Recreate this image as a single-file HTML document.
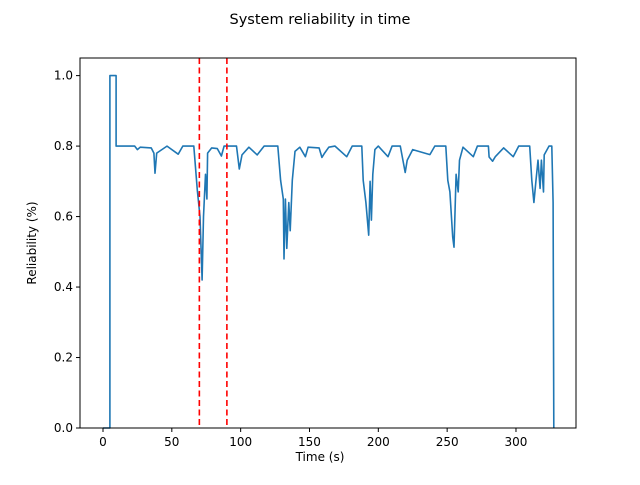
<!DOCTYPE html>
<html><head><meta charset="utf-8"><style>
body{margin:0;background:#fff;font-family:"Liberation Sans","DejaVu Sans",sans-serif}
svg text{font-family:"DejaVu Sans","Liberation Sans",sans-serif}
</style></head><body>
<svg id="chart" width="640" height="480" xmlns="http://www.w3.org/2000/svg"></svg>
<script>
const times=[0,5,5,9.5,9.5,23,25,27,35,37,37.8,39,46.5,54.6,58,66,68.5,70.5,72,73,74.5,75.5,76,79,83,86,88,97,99,101,106,112,117,127,129,131,131.5,132.5,133.5,135,136,137.5,139.5,143,147,149,157,159,161,164,168.5,177,181,188,189,191,193,194,195,196,197.5,200,207,210,216,219.5,221,225,237.5,241,249,250.5,252,254,255,256.5,258,259,261.5,269,272,280,280.5,283,285,291,298,302,310,311.5,313,314.5,316,317.5,318.5,320,320.5,324,326,327,327.5];
const values=[0,0,1,1,0.8,0.8,0.79,0.797,0.795,0.78,0.723,0.78,0.8,0.777,0.8,0.8,0.675,0.6,0.42,0.6,0.72,0.65,0.78,0.795,0.793,0.772,0.8,0.8,0.735,0.775,0.797,0.775,0.8,0.8,0.703,0.65,0.48,0.65,0.51,0.64,0.56,0.703,0.785,0.797,0.77,0.797,0.795,0.768,0.78,0.797,0.8,0.77,0.8,0.8,0.703,0.64,0.547,0.7,0.59,0.72,0.79,0.8,0.77,0.8,0.8,0.725,0.76,0.79,0.776,0.8,0.8,0.703,0.67,0.542,0.513,0.72,0.67,0.76,0.797,0.77,0.8,0.8,0.769,0.757,0.77,0.795,0.77,0.8,0.8,0.703,0.64,0.7,0.76,0.68,0.76,0.67,0.775,0.8,0.8,0.64,0];
const vlines=[70,90];
const xTicks=[0,50,100,150,200,250,300];
const yTicks=[0,0.2,0.4,0.6,0.8,1.0];
const L=80,R=576,T=58,B=428;
const xmin=-16.7,xmax=343.6,ymin=0,ymax=1.05;
const sx=v=>L+(v-xmin)/(xmax-xmin)*(R-L);
const sy=v=>B-(v-ymin)/(ymax-ymin)*(B-T);
const svg=document.getElementById('chart');
const NS='http://www.w3.org/2000/svg';
function mk(tag,attrs,parent){const e=document.createElementNS(NS,tag);for(const k in attrs)e.setAttribute(k,attrs[k]);(parent||svg).appendChild(e);return e;}
let t=mk('text',{x:320,y:24,'text-anchor':'middle','font-size':14.5,fill:'#000'});t.textContent='System reliability in time';


let pts=times.map((x,i)=>sx(x).toFixed(1)+','+sy(values[i]).toFixed(1)).join(' ');
let line=mk('polyline',{points:pts,fill:'none',stroke:'#1f77b4','stroke-width':1.6,'stroke-linejoin':'round'});


vlines.forEach(v=>{let l=mk('line',{x1:sx(v),x2:sx(v),y1:T,y2:B,stroke:'#ff0000','stroke-width':1.6,'stroke-dasharray':'6,3.5'});

});
let fr=mk('rect',{x:L,y:T,width:R-L,height:B-T,fill:'none',stroke:'#000','stroke-width':1});


xTicks.forEach(v=>{mk('line',{x1:sx(v),x2:sx(v),y1:B,y2:B+4,stroke:'#000'});
let tx=mk('text',{x:sx(v),y:B+18,'text-anchor':'middle','font-size':12});tx.textContent=v;

});
yTicks.forEach(v=>{mk('line',{x1:L-4,x2:L,y1:sy(v),y2:sy(v),stroke:'#000'});
let tx=mk('text',{x:L-7,y:sy(v)+4,'text-anchor':'end','font-size':12});tx.textContent=v.toFixed(1);

});
let xl=mk('text',{x:320,y:461,'text-anchor':'middle','font-size':12});xl.textContent='Time (s)';


let yl=mk('text',{x:36,y:243,'text-anchor':'middle','font-size':12,transform:'rotate(-90 36 243)'});yl.textContent='Reliability (%)';


</script>
</body></html>
